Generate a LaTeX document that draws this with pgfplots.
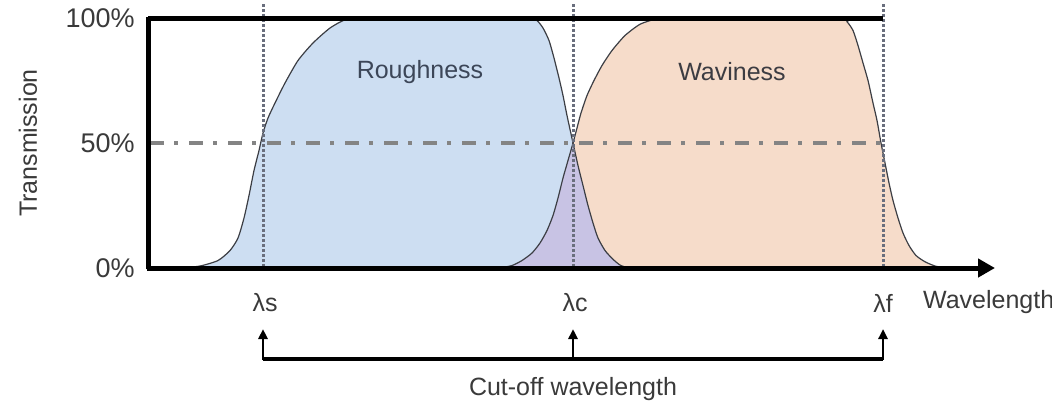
\documentclass[border=0pt]{standalone}
\usepackage{fontspec}
\setmainfont{Liberation Sans}
\usepackage{pgfplots}
\pgfplotsset{compat=1.18}
\usetikzlibrary{arrows.meta}
\definecolor{rblue}{RGB}{205,222,242}
\definecolor{wpeach}{RGB}{246,220,202}
\definecolor{olav}{RGB}{200,195,228}
\definecolor{txt}{RGB}{58,58,58}
\definecolor{dotc}{RGB}{105,110,125}
\definecolor{ddc}{RGB}{132,132,132}
\definecolor{curvec}{RGB}{60,62,68}
\newcommand{\lab}{\fontsize{12.5}{14}\selectfont}
\begin{document}
\begin{tikzpicture}
\begin{axis}[
  scale only axis, width=367.5pt, height=125pt,
  xmin=148, xmax=883, ymin=0, ymax=100,
  clip=false,
  axis line style={draw=none},
  xtick=\empty,
  ytick={0,50,100}, yticklabels={0\%,50\%,100\%},
  major tick length=0pt,
  yticklabel style={anchor=east, inner sep=0pt, xshift=-6.5pt,
    font=\fontsize{13.5}{15}\selectfont, text=txt},
]
% waviness fill
\addplot[fill=wpeach, draw=none, smooth, tension=0.4] table {
x y
500 0
512 1
522 3
532 6
540 10
547 15
553 21
558 28
563 36
568 43
573 50
577 56
581 62
587 69
594 75
602 81
612 87
625 93
640 97.5
655 99.5
668 100
840 100
847 98.5
853 95
858 89
863 82
868 75
873 66
877 59
881 50
885 42
889 34
893 27
898 20
903 14
909 9
916 5
925 2.5
935 0.8
945 0
} \closedcycle;
% roughness fill
\addplot[fill=rblue, draw=none, smooth, tension=0.4] table {
x y
148 0
180 0
200 0.8
218 3
230 7
238 12
244 20
249 29
254 39
259 47
263 54
268 60
275 66
285 74
298 83
313 90
330 96
345 99.3
358 100
530 100
537 99
543 96
549 91
554 84
559 76
563 69
567 61
573 50
578 41
583 33
588 25
593 18
598 12
605 7
613 3.5
620 1.2
628 0
} \closedcycle;
% overlap fill
\addplot[fill=olav, draw=none] table {
x y
500 0
512 1
522 3
532 6
540 10
547 15
553 21
558 28
563 36
568 43
573 50
578 41
583 33
588 25
593 18
598 12
605 7
613 3.5
620 1.2
628 0
} \closedcycle;
% outlines
\addplot[draw=curvec, line width=0.6pt, smooth, tension=0.4] table {
x y
500 0
512 1
522 3
532 6
540 10
547 15
553 21
558 28
563 36
568 43
573 50
577 56
581 62
587 69
594 75
602 81
612 87
625 93
640 97.5
655 99.5
668 100
840 100
847 98.5
853 95
858 89
863 82
868 75
873 66
877 59
881 50
885 42
889 34
893 27
898 20
903 14
909 9
916 5
925 2.5
935 0.8
945 0
};
\addplot[draw=curvec, line width=0.6pt, smooth, tension=0.4] table {
x y
148 0
180 0
200 0.8
218 3
230 7
238 12
244 20
249 29
254 39
259 47
263 54
268 60
275 66
285 74
298 83
313 90
330 96
345 99.3
358 100
530 100
537 99
543 96
549 91
554 84
559 76
563 69
567 61
573 50
578 41
583 33
588 25
593 18
598 12
605 7
613 3.5
620 1.2
628 0
};
% 50% line
\draw[ddc, line width=1.6pt, dash pattern=on 7pt off 5pt on 2pt off 5.5pt] (axis cs:150,50) -- (axis cs:883,50);
% dotted cut-off lines
\draw[dotc, line width=1.5pt, dash pattern=on 1.3pt off 1.2pt] (axis cs:263,105.6) -- (axis cs:263,0);
\draw[dotc, line width=1.5pt, dash pattern=on 1.3pt off 1.2pt] (axis cs:573,105.6) -- (axis cs:573,0);
\draw[dotc, line width=1.5pt, dash pattern=on 1.3pt off 1.2pt] (axis cs:883,105.6) -- (axis cs:883,0);
% frame
\draw[black, line width=2.5pt] (axis cs:148,100) -- (axis cs:883,100);
\draw[black, line width=2.5pt] (axis cs:148,-0.5) -- (axis cs:148,100.5);
\draw[black, line width=2.5pt, -{Triangle[length=8.5pt,width=9pt]}] (axis cs:147,0) -- (axis cs:995,0);
% labels
\node[txt, font=\lab, rotate=90] at (axis cs:28,50) {Transmission};
\node[text={rgb,255:red,60;green,70;blue,88}, font=\lab] at (axis cs:420,78.4) {Roughness};
\node[text={rgb,255:red,60;green,60;blue,66}, font=\lab] at (axis cs:732,78.4) {Waviness};
\node[txt, font=\lab] at (axis cs:265,-14) {λs};
\node[txt, font=\lab] at (axis cs:575,-14) {λc};
\node[txt, font=\lab] at (axis cs:883,-14) {λf};
\node[txt, font=\lab, anchor=west] at (axis cs:916,-13.6) {Wavelength};
% cut-off bracket
\draw[black, line width=2pt] (axis cs:263,-36.4) -- (axis cs:883,-36.4);
\draw[black, line width=1.3pt, -{Triangle[length=5pt,width=4.5pt]}] (axis cs:263,-36.8) -- (axis cs:263,-24.4);
\draw[black, line width=1.3pt, -{Triangle[length=5pt,width=4.5pt]}] (axis cs:573,-36.8) -- (axis cs:573,-24.4);
\draw[black, line width=1.3pt, -{Triangle[length=5pt,width=4.5pt]}] (axis cs:883,-36.8) -- (axis cs:883,-24.4);
\node[txt, font=\lab] at (axis cs:573,-48.4) {Cut-off wavelength};
\coordinate (BL) at (axis cs:0,-54.4);
\coordinate (TR) at (axis cs:1052,107.2);
\end{axis}
\pgfresetboundingbox
\useasboundingbox (BL) rectangle (TR);
\end{tikzpicture}
\end{document}
